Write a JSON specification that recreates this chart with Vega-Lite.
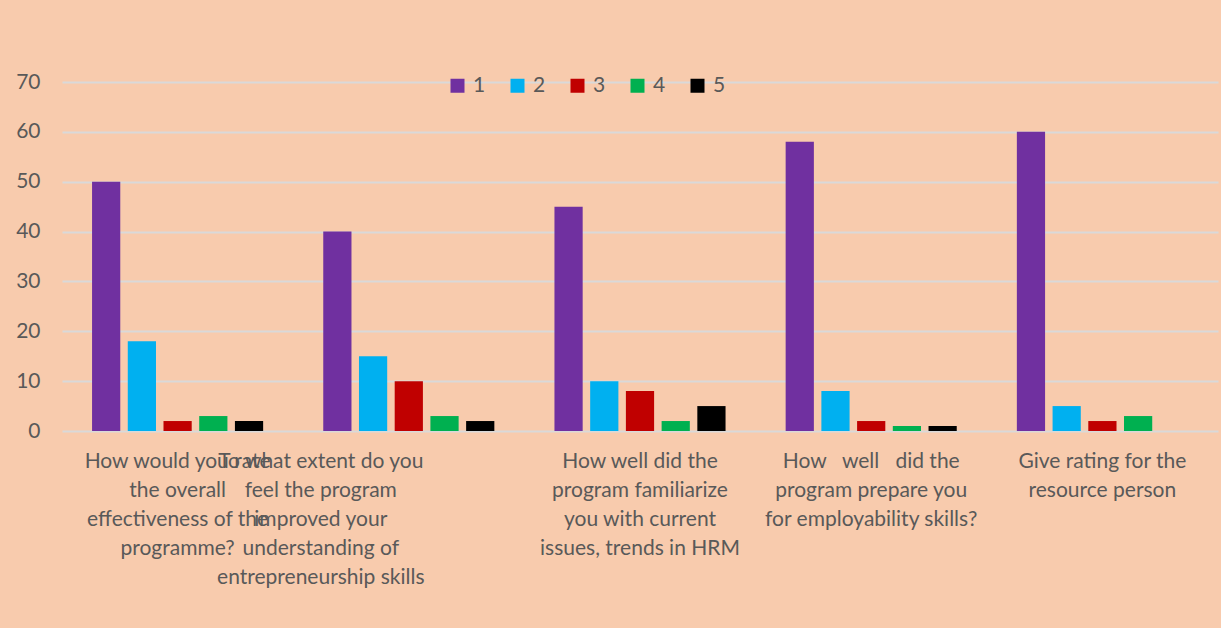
{
  "$schema": "https://vega.github.io/schema/vega-lite/v6.json",
  "autosize": {"type": "none"},
  "width": 1156,
  "height": 349,
  "padding": {"left": 62, "top": 82, "right": 3, "bottom": 197},
  "background": "#F8CBAD",
  "config": {
    "view": {"stroke": null},
    "font": "Lato",
    "axis": {"labelFont": "Lato", "labelColor": "#595959", "labelFontSize": 21}
  },
  "data": {
    "values": [
      {"question": "How would you rate the overall effectiveness of the programme?", "rating": "1", "count": 50},
      {"question": "How would you rate the overall effectiveness of the programme?", "rating": "2", "count": 18},
      {"question": "How would you rate the overall effectiveness of the programme?", "rating": "3", "count": 2},
      {"question": "How would you rate the overall effectiveness of the programme?", "rating": "4", "count": 3},
      {"question": "How would you rate the overall effectiveness of the programme?", "rating": "5", "count": 2},
      {"question": "To what extent do you feel the program improved your understanding of entrepreneurship skills", "rating": "1", "count": 40},
      {"question": "To what extent do you feel the program improved your understanding of entrepreneurship skills", "rating": "2", "count": 15},
      {"question": "To what extent do you feel the program improved your understanding of entrepreneurship skills", "rating": "3", "count": 10},
      {"question": "To what extent do you feel the program improved your understanding of entrepreneurship skills", "rating": "4", "count": 3},
      {"question": "To what extent do you feel the program improved your understanding of entrepreneurship skills", "rating": "5", "count": 2},
      {"question": "How well did the program familiarize you with current issues, trends in HRM", "rating": "1", "count": 45},
      {"question": "How well did the program familiarize you with current issues, trends in HRM", "rating": "2", "count": 10},
      {"question": "How well did the program familiarize you with current issues, trends in HRM", "rating": "3", "count": 8},
      {"question": "How well did the program familiarize you with current issues, trends in HRM", "rating": "4", "count": 2},
      {"question": "How well did the program familiarize you with current issues, trends in HRM", "rating": "5", "count": 5},
      {"question": "How well did the program prepare you for employability skills?", "rating": "1", "count": 58},
      {"question": "How well did the program prepare you for employability skills?", "rating": "2", "count": 8},
      {"question": "How well did the program prepare you for employability skills?", "rating": "3", "count": 2},
      {"question": "How well did the program prepare you for employability skills?", "rating": "4", "count": 1},
      {"question": "How well did the program prepare you for employability skills?", "rating": "5", "count": 1},
      {"question": "Give rating for the resource person", "rating": "1", "count": 60},
      {"question": "Give rating for the resource person", "rating": "2", "count": 5},
      {"question": "Give rating for the resource person", "rating": "3", "count": 2},
      {"question": "Give rating for the resource person", "rating": "4", "count": 3}
    ]
  },
  "mark": {"type": "bar"},
  "encoding": {
    "x": {
      "field": "question",
      "type": "nominal",
      "sort": null,
      "scale": {"paddingInner": 0.26, "paddingOuter": 0.13},
      "axis": {
        "title": null,
        "domain": false,
        "ticks": false,
        "labelAngle": 0,
        "labelAlign": "center",
        "labelBaseline": "top",
        "labelPadding": 19,
        "labelLimit": 0,
        "labelOverlap": false,
        "labelLineHeight": 29,
        "labelOffset": {"condition": {"test": "indexof(datum.value, 'To what') == 0", "value": -88}, "value": 0},
        "labelExpr": "indexof(datum.value, 'How would') == 0 ? ['How would you rate', 'the overall', 'effectiveness of the', 'programme?'] : indexof(datum.value, 'To what') == 0 ? ['To what extent do you', 'feel the program', 'improved your', 'understanding of', 'entrepreneurship skills'] : indexof(datum.value, 'How well did the program familiarize') == 0 ? ['How well did the', 'program familiarize', 'you with current', 'issues, trends in HRM'] : indexof(datum.value, 'How well did the program prepare') == 0 ? ['How\u00a0\u00a0 well\u00a0\u00a0 did the', 'program prepare you', 'for employability skills?'] : ['Give rating for the', 'resource person']"
      }
    },
    "xOffset": {
      "field": "rating",
      "type": "nominal",
      "scale": {"paddingInner": 0.21, "paddingOuter": 0}
    },
    "y": {
      "field": "count",
      "type": "quantitative",
      "scale": {"domain": [0, 70], "nice": false},
      "axis": {
        "title": null,
        "values": [0, 10, 20, 30, 40, 50, 60, 70],
        "domain": false,
        "ticks": false,
        "labelPadding": 22,
        "gridColor": "#D9D9D9",
        "gridWidth": 2
      }
    },
    "color": {
      "field": "rating",
      "type": "nominal",
      "scale": {"domain": ["1", "2", "3", "4", "5"], "range": ["#7030A0", "#00B0F0", "#C00000", "#00B050", "#000000"]},
      "legend": {
        "title": null,
        "orient": "none",
        "legendX": 385,
        "legendY": -7,
        "direction": "horizontal",
        "symbolType": "square",
        "symbolSize": 196,
        "symbolStrokeWidth": 0,
        "labelFont": "Lato",
        "labelFontSize": 21,
        "labelColor": "#595959",
        "labelOffset": 5,
        "columnPadding": 21
      }
    }
  }
}
